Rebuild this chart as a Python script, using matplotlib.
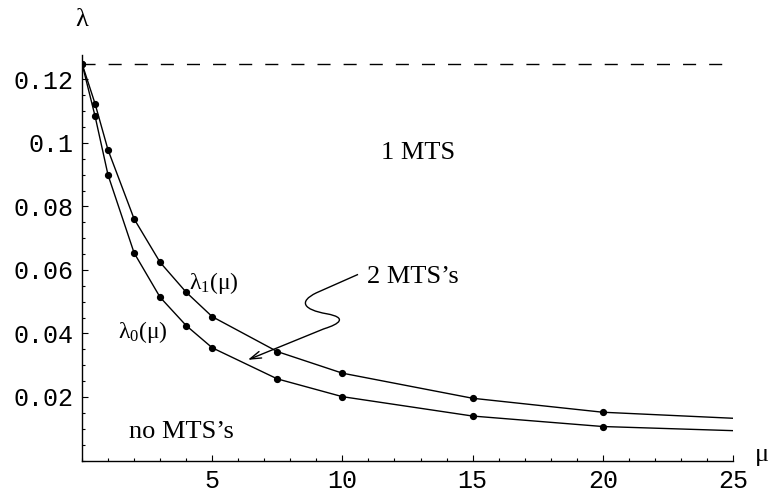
import matplotlib

matplotlib.use("Agg")
import matplotlib.pyplot as plt
from matplotlib.path import Path
from matplotlib.patches import PathPatch
from matplotlib.ticker import MultipleLocator, FixedLocator, FixedFormatter

# values
MU = [0, 0.5, 1, 2, 3, 4, 5, 7.5, 10, 15, 20]
LAM1 = [0.125, 0.1124, 0.0978, 0.0761, 0.0624, 0.0530, 0.0453, 0.0343, 0.0275, 0.0196, 0.0152]
LAM0 = [0.125, 0.1085, 0.0899, 0.0654, 0.0514, 0.0425, 0.0355, 0.0257, 0.0201, 0.0140, 0.0107]
MU_END = 25
LAM1_END = 0.0133
LAM0_END = 0.0094
LAM_MAX = 0.125

X_TICKS = [5, 10, 15, 20, 25]
Y_TICKS = [0.02, 0.04, 0.06, 0.08, 0.10, 0.12]
Y_LABELS = ["0.02", "0.04", "0.06", "0.08", "0.1", "0.12"]

SERIF = "Liberation Serif"
MONO = "Liberation Mono"
plt.rcParams["font.family"] = SERIF
plt.rcParams["mathtext.fontset"] = "custom"
plt.rcParams["mathtext.rm"] = SERIF

fig = plt.figure(figsize=(7.72, 4.93), dpi=100)
ax = fig.add_axes([82 / 772, 32.5 / 493, (733 - 82) / 772, (460.5 - 55) / 493])

kw = dict(color="black", lw=1.0, marker="o", ms=4.2, markevery=list(range(len(MU))))
ax.plot(MU + [MU_END], LAM1 + [LAM1_END], **kw)
ax.plot(MU + [MU_END], LAM0 + [LAM0_END], **kw)
ax.plot([0, MU_END], [LAM_MAX, LAM_MAX], color="black", lw=1.0, dashes=(9.4, 9.4))

ax.set_xlim(0, 25)
ax.set_ylim(0, 0.1277)
for s in ("top", "right"):
    ax.spines[s].set_visible(False)
for s in ("left", "bottom"):
    ax.spines[s].set_linewidth(1.0)

ax.xaxis.set_major_locator(FixedLocator(X_TICKS))
ax.xaxis.set_minor_locator(MultipleLocator(1))
ax.yaxis.set_major_locator(FixedLocator(Y_TICKS))
ax.yaxis.set_major_formatter(FixedFormatter(Y_LABELS))
ax.yaxis.set_minor_locator(MultipleLocator(0.005))
ax.tick_params(which="major", direction="in", length=4, width=0.8, labelsize=18, pad=6)
ax.tick_params(which="minor", direction="in", length=2.2, width=0.8)
for lab in ax.get_xticklabels() + ax.get_yticklabels():
    lab.set_fontfamily(MONO)

# axis names
fig.text(82 / 772, 1 - 20 / 493, "λ", fontsize=19, ha="center", va="center")
fig.text(762 / 772, 1 - 455 / 493, "μ", fontsize=19, ha="center", va="center")

# region labels
ax.text(12.9, 0.0968, "1 MTS", fontsize=19, ha="center", va="center")
ax.text(10.95, 0.0577, "2 MTS’s", fontsize=19, ha="left", va="center")
ax.text(1.8, 0.0090, "no MTS’s", fontsize=19, ha="left", va="center")
ax.text(4.1, 0.0560, r"$\mathregular{λ_1(μ)}$", fontsize=17, ha="left", va="center")
ax.text(1.4, 0.0405, r"$\mathregular{λ_0(μ)}$", fontsize=17, ha="left", va="center")

# wavy arrow
verts = [(10.6, 0.0586), (9.0, 0.0528),
         (8.3, 0.0500), (8.5, 0.0475), (9.4, 0.0462),
         (10.2, 0.0450), (9.9, 0.0430), (9.3, 0.0415)]
codes = [Path.MOVETO, Path.LINETO,
         Path.CURVE4, Path.CURVE4, Path.CURVE4,
         Path.CURVE4, Path.CURVE4, Path.CURVE4]
ax.add_patch(PathPatch(Path(verts, codes), fill=False, lw=1.0, color="black"))
ax.annotate("", xy=(6.37, 0.0317), xytext=(9.3, 0.0415),
            arrowprops=dict(arrowstyle="->,head_length=0.8,head_width=0.25",
                            lw=1.0, color="black", shrinkA=0, shrinkB=0))

fig.savefig("out.png", dpi=100)
